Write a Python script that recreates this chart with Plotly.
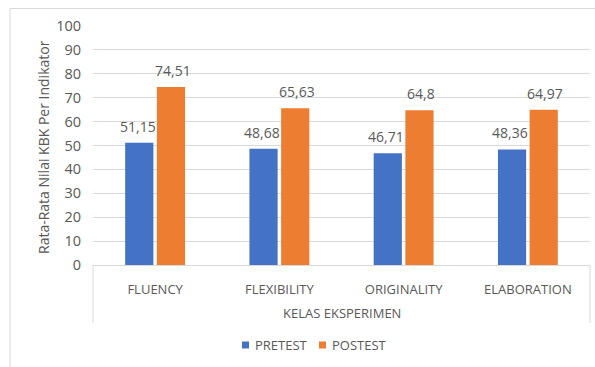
import plotly.graph_objects as go

categories = ["FLUENCY", "FLEXIBILITY", "ORIGINALITY", "ELABORATION"]
pretest = [51.15, 48.68, 46.71, 48.36]
posttest = [74.51, 65.63, 64.8, 64.97]
y_ticks = list(range(0, 101, 10))

W, H = 595, 367
L, R, T, B = 93, 590, 26, 265  # plot area in pixels

def px(x):
    return (x - L) / (R - L)

def py(y):
    return (B - y) / (B - T)

TXT = "#595959"
GRID = "#D9D9D9"
BLUE = "#4472C4"
ORANGE = "#ED7D31"
FONT = "Open Sans, Liberation Sans, sans-serif"

def fmt(v):
    s = f"{v:.2f}".rstrip("0").rstrip(".")
    return s.replace(".", ",")

fig = go.Figure()
fig.add_trace(go.Bar(name="PRETEST", x=categories, y=pretest, marker_color=BLUE,
                     marker_line_width=0))
fig.add_trace(go.Bar(name="POSTEST", x=categories, y=posttest, marker_color=ORANGE,
                     marker_line_width=0))

annotations = []
for vals, shift in ((pretest, -17.5), (posttest, 17.5)):
    for c, v in zip(categories, vals):
        annotations.append(dict(x=c, y=v, text=fmt(v), showarrow=False, xshift=shift,
                                yanchor="bottom", yshift=5,
                                font=dict(size=14, color=TXT, family=FONT)))

annotations.append(dict(x=0.5, y=py(313), xref="paper", yref="paper", text="KELAS EKSPERIMEN",
                        showarrow=False, font=dict(size=13, color=TXT, family=FONT),
                        xanchor="center", yanchor="middle"))
annotations.append(dict(x=px(43), y=py(147), xref="paper", yref="paper",
                        xanchor="center", yanchor="middle",
                        text="Rata-Rata Nilai KBK Per Indikator",
                        showarrow=False, textangle=-90, font=dict(size=14, color=TXT, family=FONT)))

shapes = [
    # category axis box
    dict(type="line", xref="paper", yref="paper", x0=px(L), x1=px(L), y0=py(B), y1=py(323),
         line=dict(color=GRID, width=1)),
    dict(type="line", xref="paper", yref="paper", x0=px(R), x1=px(R), y0=py(B), y1=py(323),
         line=dict(color=GRID, width=1)),
    # chart frame
    dict(type="line", xref="paper", yref="paper", x0=px(10), x1=px(W + 5), y0=py(8.5), y1=py(8.5),
         line=dict(color=GRID, width=1)),
    dict(type="line", xref="paper", yref="paper", x0=px(10), x1=px(10), y0=py(8.5), y1=py(H + 5),
         line=dict(color=GRID, width=1)),
]

# legend: small square keys followed by the series names
for name, col, kx in (("PRETEST", BLUE, 242), ("POSTEST", ORANGE, 319)):
    shapes.append(dict(type="rect", xref="paper", yref="paper", x0=px(kx), x1=px(kx + 7),
                       y0=py(341.5), y1=py(348.5), fillcolor=col, line=dict(width=0)))
    annotations.append(dict(x=px(kx + 11), y=py(345), xref="paper", yref="paper", text=name,
                            showarrow=False, xanchor="left", yanchor="middle",
                            font=dict(size=13, color=TXT, family=FONT)))

fig.update_layout(
    width=W, height=H,
    margin=dict(l=L, r=W - R, t=T, b=H - B),
    paper_bgcolor="white", plot_bgcolor="white",
    barmode="group", bargap=0.49, bargroupgap=0.11,
    font=dict(family=FONT, color=TXT, size=12),
    showlegend=False,
    annotations=annotations, shapes=shapes,
)
fig.update_xaxes(showline=True, linecolor=GRID, linewidth=1, showgrid=False,
                 tickfont=dict(size=13, color=TXT, family=FONT), ticklabelstandoff=12)
fig.update_yaxes(range=[0, 100], tickvals=y_ticks, showgrid=True, gridcolor=GRID, gridwidth=1,
                 zeroline=False, showline=False, ticklabelstandoff=11,
                 tickfont=dict(size=14.5, color=TXT, family=FONT))

fig.write_html("out.html")
